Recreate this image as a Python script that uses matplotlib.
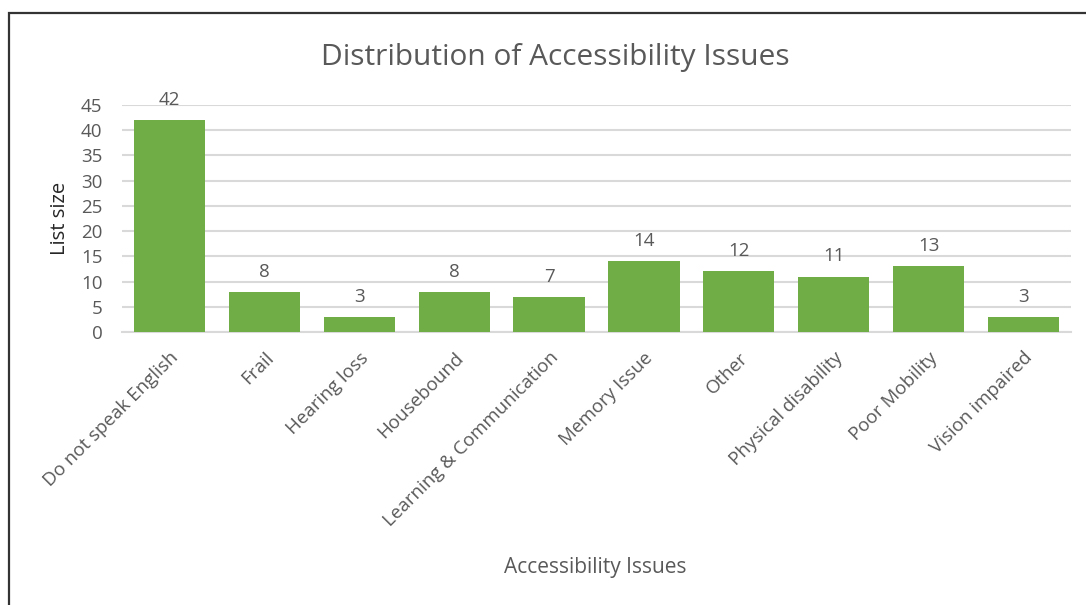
"""Bar chart of accessibility issues by list size."""

import numpy as np
from matplotlib import pyplot as plt
from matplotlib.patches import Rectangle

# data
categories = ['Do not speak English', 'Frail', 'Hearing loss', 'Housebound',
              'Learning & Communication', 'Memory Issue', 'Other',
              'Physical disability', 'Poor Mobility', 'Vision impaired']
list_size = [42, 8, 3, 8, 7, 14, 12, 11, 13, 3]
y_ticks = [0, 5, 10, 15, 20, 25, 30, 35, 40, 45]

text_color = '#595959'
bar_color = '#70AD47'
grid_color = '#D9D9D9'

plt.rcParams['font.family'] = ['Open Sans', 'DejaVu Sans']

fig = plt.figure(figsize=(10.86, 6.05), dpi=100)
ax = fig.add_axes([122 / 1086, 1 - 332 / 605, (1071 - 122) / 1086, (332 - 105) / 605])

x = np.arange(len(categories))
bars = ax.bar(x, list_size, width=0.75, color=bar_color, zorder=3)
for xi, v in zip(x, list_size):
    ax.annotate(str(v), (xi, v), xytext=(0, 8), textcoords='offset points',
                ha='center', va='bottom', fontsize=13.5, color=text_color)

ax.set_xlim(-0.5, len(categories) - 0.5)
ax.set_ylim(0, 45)
ax.set_yticks(y_ticks)
ax.yaxis.grid(True, color=grid_color, linewidth=1.5, zorder=0)
ax.tick_params(axis='y', length=0, labelsize=13.5, labelcolor=text_color, pad=14)
ax.tick_params(axis='x', length=0, labelsize=13.5, labelcolor=text_color, pad=12)
ax.set_xticks(x)
ax.set_xticklabels(categories, rotation=45, ha='right', rotation_mode='anchor')
for side in ['top', 'right', 'left']:
    ax.spines[side].set_visible(False)
ax.spines['bottom'].set_color(grid_color)
ax.spines['bottom'].set_linewidth(1.5)

ax.set_ylabel('List size', fontsize=14.5, color='#262626', labelpad=8)
fig.text(595 / 1086, 1 - 567 / 605, 'Accessibility Issues', ha='center', va='center',
         fontsize=15, color=text_color)
fig.text(555 / 1086, 1 - 58 / 605, 'Distribution of Accessibility Issues', ha='center',
         va='center', fontsize=21.5, color=text_color)

# chart area frame, running off the right and bottom edges
fig.patches.append(Rectangle((8.5 / 1086, -0.1), 1.2, 1.1 - 13.5 / 605, transform=fig.transFigure,
                             fill=False, edgecolor='#333333', linewidth=1.6))

fig.savefig('out.png', dpi=100)
